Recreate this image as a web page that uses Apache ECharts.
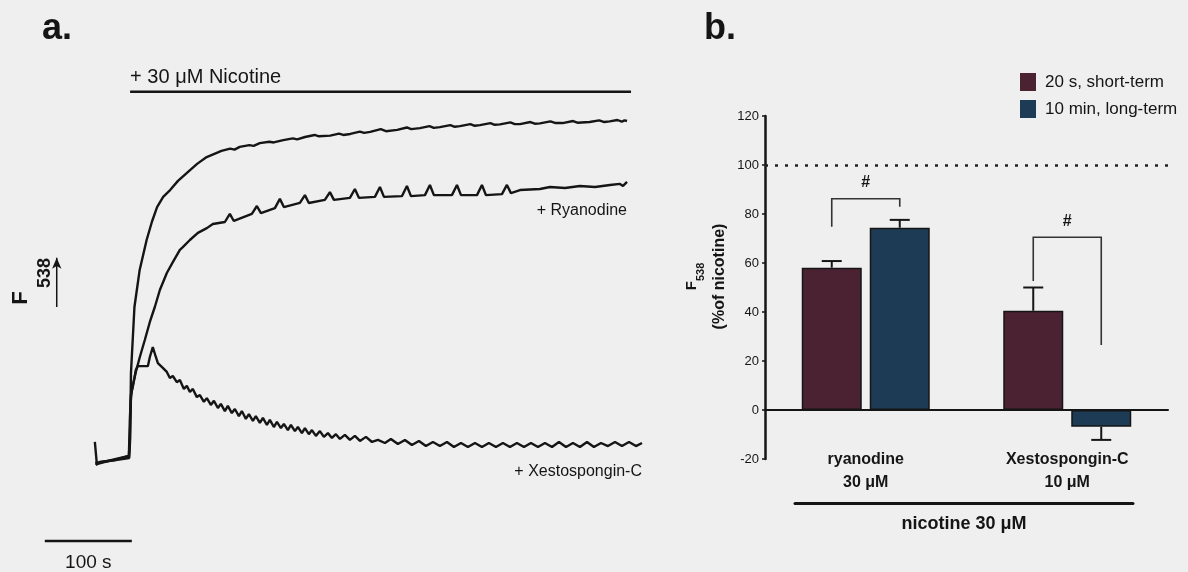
<!DOCTYPE html>
<html>
<head>
<meta charset="utf-8">
<script src="https://cdn.jsdelivr.net/npm/echarts@6/dist/echarts.min.js"></script>
<style>
  html, body { margin: 0; padding: 0; background: #efefef; }
  #chart { width: 1188px; height: 572px; }
</style>
</head>
<body>
<div id="chart"></div>
<script>
// ---------- Panel a: fluorescence traces (time in s, F538 in arbitrary units) ----------
const controlTrace = [
  [58,-0.9],[97,0.6],[98,5.9],[99,25.6],[101,35.3],[103,45],[109,55.9],[117,64.7],[123,70],
  [129,74.4],[136,77.4],[144,79.4],[153,82.1],[163,84.4],[175,87.1],[186,89.1],[203,90.9],
  [213,91.6],[218,91.3],[224,92.1],[235,92.6],[240,92.4],[247,93.2],[258,93.6],[263,93.4],
  [274,94.1],[285,94.6],[290,94.3],[299,95],[310,95.6],[315,95.2],[328,95.4],[338,96],
  [343,95.6],[351,95.9],[362,96.6],[367,96.2],[374,96.5],[386,97.3],[392,96.7],[405,97.1],
  [416,97.8],[421,97.3],[431,97.6],[442,98.2],[447,97.7],[454,97.9],[466,98.5],[471,98],
  [477,98.2],[489,98.8],[494,98.3],[500,98.5],[512,99.1],[517,98.6],[523,98.7],[535,99.3],
  [540,98.8],[546,98.8],[558,99.4],[563,98.9],[569,99],[581,99.6],[587,99.1],[595,99.1],
  [607,99.7],[612,99.2],[626,99.4],[637,99.9],[643,99.4],[649,99.6],[658,100],[663,99.5],
  [666,99.9],[669,99.7]
];
const ryanodineTrace = [
  [57.5,5.3],[59.8,-1.2],[77,0],[96.6,1.2],[97.7,5.9],[98.9,17.6],[100,20.6],[104.6,25.9],
  [109.2,30.3],[114.9,35.3],[120.7,40.6],[126.4,45],[132.2,50],[140.2,55],[147.1,58.2],
  [155.2,61.8],[158.6,62.6],[166.7,64.7],[175.9,66.8],[186.2,68.2],[193.1,69.4],[206.9,70],
  [212.6,72.4],[217.2,70.3],[237.9,72.4],[243.7,74.7],[248.3,72.6],[264.4,74.1],[270.1,76.8],
  [274.7,74.4],[293.1,75.6],[298.9,77.9],[303.4,75.6],[321.8,76.5],[327.6,78.8],[332.2,76.5],
  [350.6,77.1],[356.3,79.7],[360.9,77.1],[379.3,77.4],[385.1,80.3],[389.7,77.4],[410.3,77.6],
  [416.1,80.6],[420.7,77.6],[436.8,77.9],[442.5,80.9],[447.1,77.9],[467.8,77.9],[473.6,80.9],
  [478.2,77.9],[496.6,77.9],[502.3,80.9],[506.9,77.9],[525.3,78.2],[531,80.9],[535.6,78.5],
  [546,79.4],[569,79.7],[580.5,80.3],[597.7,80],[614.9,80.6],[632.2,80.3],[649.4,80.9],
  [660.9,81.2],[664.4,80.6],[669,81.8]
];
const xestoTrace = [
  [58.6,-1.5],[63.2,-0.6],[80.5,0],[96.6,1.2],[97.7,11.8],[98.9,19.1],[101.1,21.5],[104.6,26.5],
  [106.9,27.6],[118.4,27.6],[120.7,30.3],[124.1,33.2],[127.6,30.3],[129.9,28.5],[135.6,27.1],
  [140.2,25.9],[143.7,24.1],[147.1,24.7],[151.7,22.9],[155.2,23.5],[159.8,20.9],[163.2,21.8],
  [166.7,20],[170.1,20.9],[174.7,18.5],[178.2,19.1],[182.8,17.1],[186.2,18.2],[190.8,16.2],
  [194.3,17.4],[198.9,15.3],[202.3,16.5],[206.9,14.4],[210.3,15.9],[214.9,13.8],[218.4,15],
  [223,12.9],[226.4,14.4],[231,12.1],[234.5,13.5],[239.1,11.5],[242.5,12.9],[247.1,10.9],
  [250.6,12.4],[255.2,10.3],[258.6,11.8],[263.2,9.7],[266.7,11.2],[271.3,9.4],[274.7,10.6],
  [279.3,8.8],[282.8,10.3],[287.4,8.5],[290.8,9.7],[295.4,7.9],[298.9,9.4],[303.4,7.6],
  [306.9,8.8],[311.5,7.1],[316.1,8.5],[320.7,6.8],[325.3,7.9],[329.9,6.5],[334.5,7.6],
  [339.1,6.2],[344.8,7.4],[350.6,5.9],[356.3,7.1],[362.1,5.6],[369,6.8],[375.9,5.3],
  [382.8,5.9],[390.8,5],[397.7,6.2],[405.7,4.7],[413.8,5.9],[421.8,4.4],[429.9,5.6],
  [437.9,4.1],[446,5.3],[454,4.1],[462.1,5.3],[470.1,3.8],[478.2,5],[486.2,3.8],[494.3,5],
  [502.3,3.8],[510.3,5],[518.4,3.8],[526.4,5],[534.5,3.8],[542.5,5],[550.6,3.8],[558.6,5],
  [566.7,3.8],[574.7,5],[582.8,3.8],[590.8,5.3],[598.9,3.8],[606.9,5],[614.9,3.8],[623,5.3],
  [631,3.8],[639.1,5],[647.1,4.1],[655.2,5.3],[663.2,4.1],[671.3,5.3],[679.3,4.1],[686.2,5]
];
const nicotineTimes = [98, 673.6];
const nicotineLevel = 108.3;
const scaleBarTimes = [0, 100];
const scaleBarLevel = -23.8;
const arrowTime = 13.7;
const arrowRange = [45, 59.5];

// ---------- Panel b: bar chart (% of nicotine) ----------
const categories = ['ryanodine\n30 \u03bcM', 'Xestospongin-C\n10 \u03bcM'];
const seriesNames = ['20 s, short-term', '10 min, long-term'];
const shortTerm = [58.1, 40.5];
const shortErr = [2.7, 9.5];
const longTerm = [74.4, -6.8];
const longErr = [3.2, 5.4];
const sigLeft = [74.8, 52.7];
const sigTop = [86.2, 70.5];
const sigRight = [83, 26.5];
const refLevel = 100;
const yMin = -20, yMax = 120, yStep = 20;

const INK = '#151515';
const FONT = '"Liberation Sans", Arial, sans-serif';
const MAROON = '#4b2232';
const BLUE = '#1d3b55';
const HALF_PAIR = 34;

const chart = echarts.init(document.getElementById('chart'));

function errorRender(offset) {
  return function (params, api) {
    const cat = api.value(0), v = api.value(1), e = api.value(2);
    const s = v >= 0 ? 1 : -1;
    const p0 = api.coord([cat, v]);
    const p1 = api.coord([cat, v + s * e]);
    const x = p0[0] + offset;
    return {
      type: 'group',
      children: [
        { type: 'line', shape: { x1: x, y1: p0[1], x2: x, y2: p1[1] }, style: { stroke: INK, lineWidth: 2 } },
        { type: 'line', shape: { x1: x - 10, y1: p1[1], x2: x + 10, y2: p1[1] }, style: { stroke: INK, lineWidth: 2 } }
      ]
    };
  };
}

function bracketRender(params, api) {
  const cat = api.value(0);
  const c = api.coord([cat, api.value(2)]);
  const yl = api.coord([cat, api.value(1)])[1];
  const yr = api.coord([cat, api.value(3)])[1];
  const xl = c[0] - HALF_PAIR, xr = c[0] + HALF_PAIR, yt = c[1];
  return {
    type: 'group',
    children: [
      { type: 'polyline', shape: { points: [[xl, yl], [xl, yt], [xr, yt], [xr, yr]] },
        style: { stroke: '#333', lineWidth: 1.6, fill: null } },
      { type: 'text', x: (xl + xr) / 2, y: yt - 16,
        style: { text: '#', fontSize: 16, fontWeight: 'bold', fontFamily: FONT, fill: INK, align: 'center', verticalAlign: 'middle' } }
    ]
  };
}

const traceLine = (name, data) => ({
  name, type: 'line', xAxisIndex: 0, yAxisIndex: 0, data,
  showSymbol: false, symbol: 'none', lineStyle: { color: INK, width: 2.4 }, silent: true
});

const annLabel = (extra) => Object.assign({ show: true, color: INK, fontFamily: FONT, textBorderWidth: 0 }, extra);

const option = {
  backgroundColor: '#efefef',
  animation: false,
  textStyle: { fontFamily: FONT, color: INK },
  graphic: [
    { type: 'text', x: 42, y: 29.5, style: { text: 'a.', fontSize: 36, fontWeight: 'bold', fontFamily: FONT, fill: INK, align: 'left', verticalAlign: 'middle' } },
    { type: 'text', x: 704, y: 29.5, style: { text: 'b.', fontSize: 36, fontWeight: 'bold', fontFamily: FONT, fill: INK, align: 'left', verticalAlign: 'middle' } },
    { type: 'text', x: 21, y: 298, rotation: Math.PI / 2, style: { text: 'F', fontSize: 22, fontWeight: 'bold', fontFamily: FONT, fill: INK, align: 'center', verticalAlign: 'middle' } },
    { type: 'text', x: 45, y: 273, rotation: Math.PI / 2, style: { text: '538', fontSize: 18, fontWeight: 'bold', fontFamily: FONT, fill: INK, align: 'center', verticalAlign: 'middle' } }
  ],
  legend: {
    data: seriesNames, orient: 'vertical', left: 1015, top: 68,
    itemWidth: 16, itemHeight: 18, itemGap: 9, icon: 'rect',
    itemStyle: { borderWidth: 0 },
    textStyle: { fontSize: 17, color: INK, fontFamily: FONT, padding: [0, 0, 0, 4] }
  },
  grid: [
    { left: 10, top: 69, width: 644, height: 493 },
    { left: 765, top: 116, width: 403, height: 343 },
    { left: 765, top: 300, width: 403, height: 148 },
    { left: 795, top: 400, width: 338, height: 103 }
  ],
  xAxis: [
    { gridIndex: 0, type: 'value', min: -40, max: 700, show: false },
    { gridIndex: 1, type: 'category', data: categories,
      axisLine: { onZero: true, lineStyle: { color: INK, width: 2 } },
      axisTick: { show: false }, axisLabel: { show: false }, splitLine: { show: false } },
    { gridIndex: 2, type: 'category', data: categories,
      axisLine: { show: false }, axisTick: { show: false }, splitLine: { show: false },
      axisLabel: { interval: 0, margin: 0, fontSize: 16, fontWeight: 'bold', lineHeight: 23, color: INK, fontFamily: FONT } },
    { gridIndex: 3, type: 'value', min: 0, max: 1,
      axisLine: { onZero: false, lineStyle: { color: INK, width: 3 } },
      axisTick: { show: false }, axisLabel: { show: false }, splitLine: { show: false },
      name: 'nicotine 30 \u03bcM', nameLocation: 'middle', nameGap: 12,
      nameTextStyle: { fontSize: 18, fontWeight: 'bold', color: INK, fontFamily: FONT } }
  ],
  yAxis: [
    { gridIndex: 0, type: 'value', min: -30, max: 115, show: false },
    { gridIndex: 1, type: 'value', min: yMin, max: yMax, interval: yStep,
      axisLine: { show: true, onZero: false, lineStyle: { color: INK, width: 2.5 } },
      axisTick: { show: true, length: 3, lineStyle: { color: INK, width: 1.5 } },
      axisLabel: { fontSize: 13, color: INK, margin: 6, fontFamily: FONT },
      splitLine: { show: false },
      name: '{f|F}{s|538}\n{p|(%of nicotine)}',
      nameLocation: 'middle', nameRotate: 90, nameGap: 31,
      nameTextStyle: {
        color: INK, fontFamily: FONT, fontWeight: 'bold', padding: [0, 0, 0, 22],
        rich: {
          f: { fontSize: 15, fontWeight: 'bold', fontFamily: FONT, color: INK, lineHeight: 22, verticalAlign: 'top' },
          s: { fontSize: 11, fontWeight: 'bold', fontFamily: FONT, color: INK, lineHeight: 22, verticalAlign: 'bottom', padding: [9, 0, 0, 0] },
          p: { fontSize: 16, fontWeight: 'bold', fontFamily: FONT, color: INK, lineHeight: 28 }
        }
      } },
    { gridIndex: 2, type: 'value', min: 0, max: 1, show: false },
    { gridIndex: 3, type: 'value', min: 0, max: 1, show: false }
  ],
  series: [
    traceLine('control', controlTrace),
    traceLine('ryanodine', ryanodineTrace),
    traceLine('xestospongin', xestoTrace),
    { name: 'nicotine', type: 'line', xAxisIndex: 0, yAxisIndex: 0, symbol: 'none', silent: true,
      data: nicotineTimes.map(t => [t, nicotineLevel]), lineStyle: { color: INK, width: 2.5 } },
    { name: 'scalebar', type: 'line', xAxisIndex: 0, yAxisIndex: 0, symbol: 'none', silent: true,
      data: scaleBarTimes.map(t => [t, scaleBarLevel]), lineStyle: { color: INK, width: 2.5 } },
    { name: 'arrow', type: 'line', xAxisIndex: 0, yAxisIndex: 0, silent: true, showSymbol: true,
      data: [
        { value: [arrowTime, arrowRange[0]], symbol: 'none' },
        { value: [arrowTime, arrowRange[1]], symbol: 'arrow', symbolSize: [7, 11] }
      ],
      itemStyle: { color: INK }, lineStyle: { color: INK, width: 1.5 } },
    { name: 'annotations', type: 'scatter', xAxisIndex: 0, yAxisIndex: 0, silent: true,
      symbolSize: 1, itemStyle: { color: 'rgba(0,0,0,0)', opacity: 1 },
      label: annLabel({}),
      data: [
        { value: [nicotineTimes[0], nicotineLevel],
          label: annLabel({ formatter: '+ 30 \u03bcM Nicotine', position: 'top', align: 'left', distance: 4, fontSize: 20 }) },
        { value: ryanodineTrace[ryanodineTrace.length - 1],
          label: annLabel({ formatter: '+ Ryanodine', position: 'bottom', align: 'right', distance: 20, fontSize: 16 }) },
        { value: xestoTrace[xestoTrace.length - 1],
          label: annLabel({ formatter: '+ Xestospongin-C', position: 'bottom', align: 'right', distance: 20, fontSize: 16 }) },
        { value: [(scaleBarTimes[0] + scaleBarTimes[1]) / 2, scaleBarLevel],
          label: annLabel({ formatter: '100 s', position: 'bottom', distance: 12, fontSize: 19 }) }
      ] },
    { name: seriesNames[0], type: 'bar', xAxisIndex: 1, yAxisIndex: 1, data: shortTerm,
      barWidth: 60, barGap: '13.3%',
      itemStyle: { color: MAROON, borderColor: INK, borderWidth: 1.5 },
      markLine: { silent: true, symbol: 'none', label: { show: false },
        lineStyle: { type: [3, 7], width: 2.5, color: '#222' },
        data: [{ yAxis: refLevel }] } },
    { name: seriesNames[1], type: 'bar', xAxisIndex: 1, yAxisIndex: 1, data: longTerm,
      barWidth: 60, barGap: '13.3%',
      itemStyle: { color: BLUE, borderColor: INK, borderWidth: 1.5 } },
    { name: 'errShort', type: 'custom', xAxisIndex: 1, yAxisIndex: 1, z: 5, silent: true,
      renderItem: errorRender(-HALF_PAIR), encode: { x: 0, y: 1 },
      data: shortTerm.map((v, i) => [i, v, shortErr[i]]) },
    { name: 'errLong', type: 'custom', xAxisIndex: 1, yAxisIndex: 1, z: 5, silent: true,
      renderItem: errorRender(HALF_PAIR), encode: { x: 0, y: 1 },
      data: longTerm.map((v, i) => [i, v, longErr[i]]) },
    { name: 'significance', type: 'custom', xAxisIndex: 1, yAxisIndex: 1, z: 5, silent: true,
      renderItem: bracketRender, encode: { x: 0, y: 2 },
      data: sigTop.map((t, i) => [i, sigLeft[i], t, sigRight[i]]) }
  ]
};
chart.setOption(option);
</script>
</body>
</html>
